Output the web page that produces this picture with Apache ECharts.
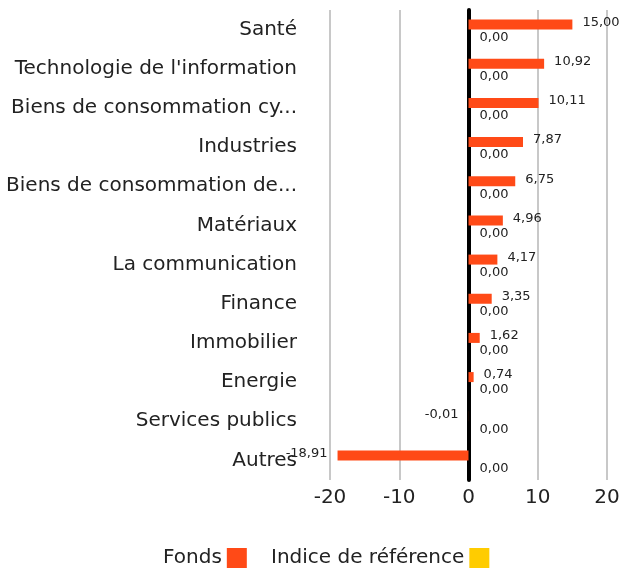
<!DOCTYPE html>
<html>
<head>
<meta charset="utf-8">
<script src="https://cdn.jsdelivr.net/npm/echarts@6/dist/echarts.min.js"></script>
<style>
  html, body { margin: 0; padding: 0; background: #fff; }
  #chart { width: 620px; height: 572px; }
</style>
</head>
<body>
<div id="chart"></div>
<script>
// secteurs et pondérations
const sectors = [
  'Santé',
  "Technologie de l'information",
  'Biens de consommation cyclique',
  'Industries',
  'Biens de consommation de base',
  'Matériaux',
  'La communication',
  'Finance',
  'Immobilier',
  'Energie',
  'Services publics',
  'Autres'
];
const fonds = [15.00, 10.92, 10.11, 7.87, 6.75, 4.96, 4.17, 3.35, 1.62, 0.74, -0.01, -18.91];
const indice = [0, 0, 0, 0, 0, 0, 0, 0, 0, 0, 0, 0];
const xTicks = [-20, -10, 0, 10, 20];

const font = '"DejaVu Sans", sans-serif';
const fmt = v => v.toFixed(2).replace('.', ',');

const legendBase = {
  top: 548,
  orient: 'horizontal',
  align: 'right',
  icon: 'rect',
  padding: 0,
  itemWidth: 20,
  itemHeight: 20,
  textStyle: { fontSize: 20, color: '#222', fontFamily: font, padding: [6, 0, 0, 0] }
};

const chart = echarts.init(document.getElementById('chart'));
chart.setOption({
  animation: false,
  textStyle: { fontFamily: font },
  grid: { left: 330, right: 13, top: 10, bottom: 92, outerBoundsMode: 'none', containLabel: false },
  legend: [
    Object.assign({}, legendBase, { left: 163, data: ['Fonds'] }),
    Object.assign({}, legendBase, { left: 271, data: ['Indice de référence'] })
  ],
  xAxis: {
    type: 'value',
    min: xTicks[0],
    max: xTicks[xTicks.length - 1],
    interval: 10,
    axisLine: { show: false },
    axisTick: { show: false },
    axisLabel: { fontSize: 20, color: '#222', margin: 8 },
    splitLine: { lineStyle: { color: '#c8c8c8', width: 2 } }
  },
  yAxis: {
    type: 'category',
    inverse: true,
    data: sectors,
    axisTick: { show: false },
    axisLine: { lineStyle: { color: '#000', width: 4 } },
    axisLabel: {
      fontSize: 20,
      color: '#222',
      margin: 33,
      width: 294,
      overflow: 'truncate',
      align: 'right'
    }
  },
  series: [
    {
      name: 'Fonds',
      type: 'bar',
      barWidth: 10,
      barGap: '0%',
      itemStyle: { color: '#ff4a17' },
      data: fonds.map(v => ({
        value: v,
        label: { position: v < 0 ? 'left' : 'right' }
      })),
      label: {
        show: true,
        distance: 10,
        offset: [0, -2],
        fontSize: 13,
        color: '#222',
        formatter: p => fmt(p.value)
      }
    },
    {
      name: 'Indice de référence',
      type: 'bar',
      barWidth: 10,
      itemStyle: { color: '#ffcc00' },
      data: indice,
      label: {
        show: true,
        position: 'right',
        distance: 11,
        offset: [0, 3],
        fontSize: 13,
        color: '#222',
        formatter: p => fmt(p.value)
      }
    }
  ]
});
</script>
</body>
</html>
